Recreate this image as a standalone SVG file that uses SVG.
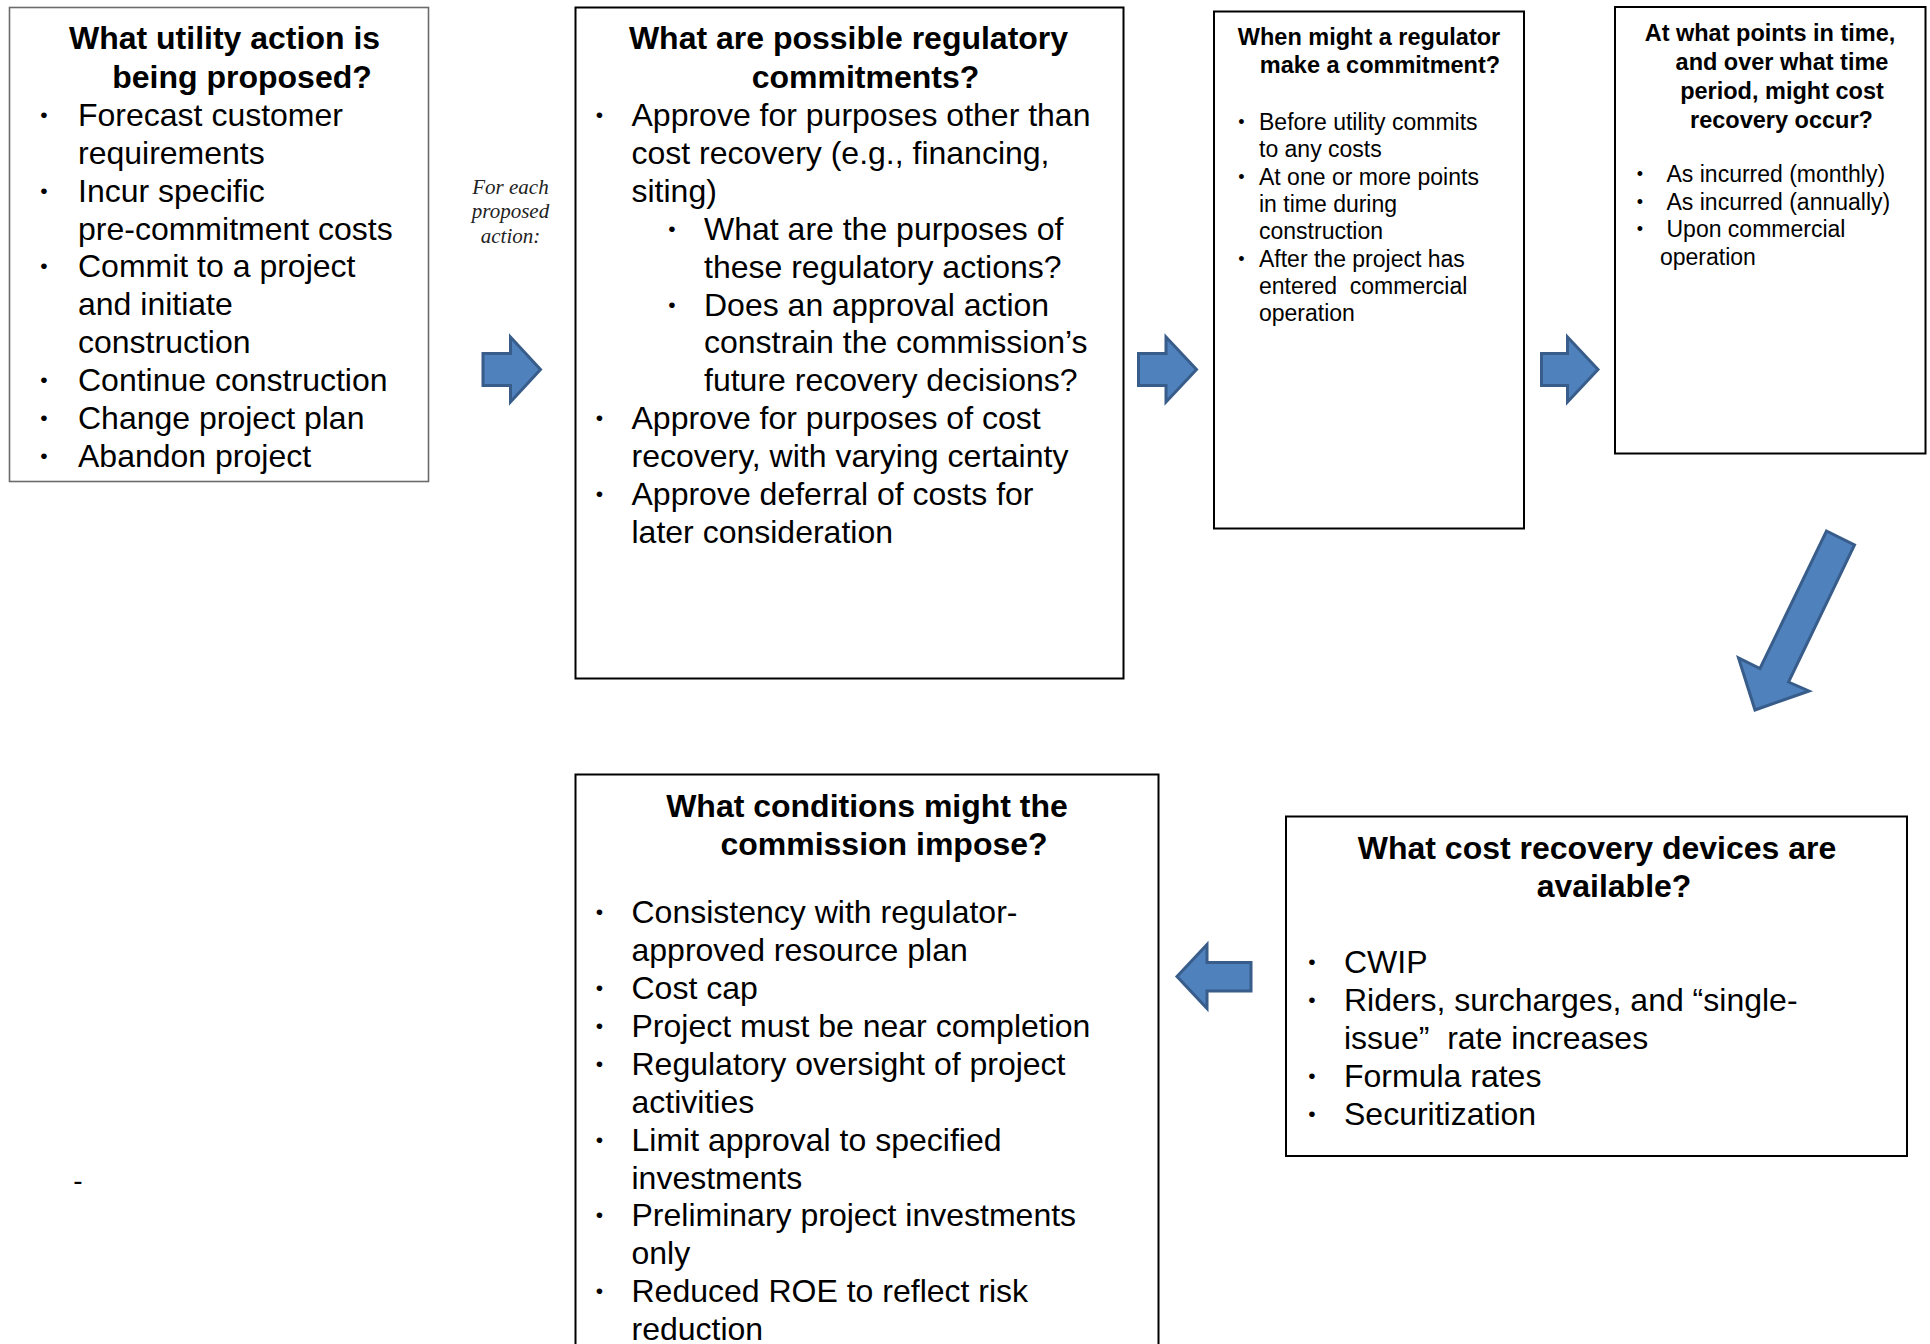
<svg xmlns="http://www.w3.org/2000/svg" width="1930" height="1344" viewBox="0 0 1930 1344">
<style>
.bg{fill:#ffffff}
.box{fill:#ffffff;stroke:#000000;stroke-width:2}
.box1{fill:#ffffff;stroke:#6b6b6b;stroke-width:1.6}
.t{font-family:"Liberation Sans",Arial,sans-serif;fill:#000000}
.h32{font-size:32px;font-weight:bold;text-anchor:middle}
.b32{font-size:32px}
.h23{font-size:23.5px;font-weight:bold;text-anchor:middle}
.b23{font-size:23px}
.bu32{font-size:21px}
.bu23{font-size:18px}
.note{font-family:"Liberation Serif","Times New Roman",serif;font-style:italic;font-size:21px;text-anchor:middle;fill:#222222}
.arrow{fill:#4F81BD;stroke:#385D8A;stroke-width:3;stroke-linejoin:miter}
</style>
<rect class="bg" x="0" y="0" width="1930" height="1344"/>

<g id="node-utility-action">
<rect class="box1" x="9.5" y="7.5" width="419" height="474"/>
<text class="t h32"><tspan x="224.5" y="49">What utility action is</tspan><tspan x="242" y="87.5">being proposed?</tspan></text>
<text class="t b32">
<tspan x="78" y="125.5">Forecast customer</tspan>
<tspan x="78" y="163.5">requirements</tspan>
<tspan x="78" y="201.5">Incur specific</tspan>
<tspan x="78" y="239.5">pre-commitment costs</tspan>
<tspan x="78" y="277">Commit to a project</tspan>
<tspan x="78" y="315">and initiate</tspan>
<tspan x="78" y="353">construction</tspan>
<tspan x="78" y="390.5">Continue construction</tspan>
<tspan x="78" y="428.5">Change project plan</tspan>
<tspan x="78" y="466.5">Abandon project</tspan>
</text>
<text class="t bu32"><tspan x="40.3" y="121.8">•</tspan><tspan x="40.3" y="197.8">•</tspan><tspan x="40.3" y="273.3">•</tspan><tspan x="40.3" y="386.8">•</tspan><tspan x="40.3" y="424.8">•</tspan><tspan x="40.3" y="462.8">•</tspan></text>
</g>

<g id="note-for-each">
<text class="note"><tspan x="510.5" y="193.5">For each</tspan><tspan x="510.5" y="218">proposed</tspan><tspan x="510.5" y="242.5">action:</tspan></text>
</g>

<g id="node-regulatory-commitments">
<rect class="box" x="575.5" y="7.5" width="548" height="671"/>
<text class="t h32"><tspan x="848.5" y="49">What are possible regulatory</tspan><tspan x="865.5" y="87.5">commitments?</tspan></text>
<text class="t b32">
<tspan x="631.5" y="125.5">Approve for purposes other than</tspan>
<tspan x="631.5" y="163.5">cost recovery (e.g., financing,</tspan>
<tspan x="631.5" y="201.5">siting)</tspan>
<tspan x="704" y="239.5">What are the purposes of</tspan>
<tspan x="704" y="277.5">these regulatory actions?</tspan>
<tspan x="704" y="315.5">Does an approval action</tspan>
<tspan x="704" y="353">constrain the commission’s</tspan>
<tspan x="704" y="390.5">future recovery decisions?</tspan>
<tspan x="631.5" y="428.5">Approve for purposes of cost</tspan>
<tspan x="631.5" y="466.5">recovery, with varying certainty</tspan>
<tspan x="631.5" y="504.5">Approve deferral of costs for</tspan>
<tspan x="631.5" y="542.5">later consideration</tspan>
</text>
<text class="t bu32"><tspan x="595.8" y="121.8">•</tspan><tspan x="668.3" y="235.8">•</tspan><tspan x="668.3" y="311.8">•</tspan><tspan x="595.8" y="424.8">•</tspan><tspan x="595.8" y="500.8">•</tspan></text>
</g>

<g id="node-when-commit">
<rect class="box" x="1214" y="11.5" width="310" height="517"/>
<text class="t h23"><tspan x="1369" y="44.5">When might a regulator</tspan><tspan x="1380" y="73">make a commitment?</tspan></text>
<text class="t b23" xml:space="preserve"><tspan x="1259" y="130">Before utility commits</tspan><tspan x="1259" y="157.3">to any costs</tspan><tspan x="1259" y="184.6">At one or more points</tspan><tspan x="1259" y="211.9">in time during</tspan><tspan x="1259" y="239.2">construction</tspan><tspan x="1259" y="266.5">After the project has</tspan><tspan x="1259" y="293.8">entered  commercial</tspan><tspan x="1259" y="321.1">operation</tspan></text>
<text class="t bu23"><tspan x="1238.3" y="128.3">•</tspan><tspan x="1238.3" y="182.9">•</tspan><tspan x="1238.3" y="264.8">•</tspan></text>
</g>

<g id="node-cost-recovery-timing">
<rect class="box" x="1615" y="7" width="310.5" height="446.5"/>
<text class="t h23"><tspan x="1770" y="40.5">At what points in time,</tspan><tspan x="1782" y="69.5">and over what time</tspan><tspan x="1782" y="98.5">period, might cost</tspan><tspan x="1781.5" y="127.5">recovery occur?</tspan></text>
<text class="t b23"><tspan x="1666.5" y="182">As incurred (monthly)</tspan><tspan x="1666.5" y="209.5">As incurred (annually)</tspan><tspan x="1666.5" y="237">Upon commercial</tspan><tspan x="1660" y="264.5">operation</tspan></text>
<text class="t bu23"><tspan x="1636.8" y="180.3">•</tspan><tspan x="1636.8" y="207.8">•</tspan><tspan x="1636.8" y="235.3">•</tspan></text>
</g>

<g id="node-recovery-devices">
<rect class="box" x="1286" y="816.5" width="621" height="339.5"/>
<text class="t h32"><tspan x="1597" y="858.5">What cost recovery devices are</tspan><tspan x="1614" y="896.5">available?</tspan></text>
<text class="t b32" xml:space="preserve"><tspan x="1344" y="973">CWIP</tspan><tspan x="1344" y="1011">Riders, surcharges, and “single-</tspan><tspan x="1344" y="1049">issue”  rate increases</tspan><tspan x="1344" y="1087">Formula rates</tspan><tspan x="1344" y="1125">Securitization</tspan></text>
<text class="t bu32"><tspan x="1308.3" y="969.3">•</tspan><tspan x="1308.3" y="1007.3">•</tspan><tspan x="1308.3" y="1083.3">•</tspan><tspan x="1308.3" y="1121.3">•</tspan></text>
</g>

<g id="node-conditions">
<rect class="box" x="575.5" y="774.5" width="583" height="600"/>
<text class="t h32"><tspan x="867" y="816.5">What conditions might the</tspan><tspan x="884" y="854.5">commission impose?</tspan></text>
<text class="t b32">
<tspan x="631.5" y="923">Consistency with regulator-</tspan>
<tspan x="631.5" y="961">approved resource plan</tspan>
<tspan x="631.5" y="999">Cost cap</tspan>
<tspan x="631.5" y="1036.5">Project must be near completion</tspan>
<tspan x="631.5" y="1074.5">Regulatory oversight of project</tspan>
<tspan x="631.5" y="1112.5">activities</tspan>
<tspan x="631.5" y="1150.5">Limit approval to specified</tspan>
<tspan x="631.5" y="1188.5">investments</tspan>
<tspan x="631.5" y="1226">Preliminary project investments</tspan>
<tspan x="631.5" y="1264">only</tspan>
<tspan x="631.5" y="1302">Reduced ROE to reflect risk</tspan>
<tspan x="631.5" y="1340">reduction</tspan>
</text>
<text class="t bu32"><tspan x="595.8" y="919.3">•</tspan><tspan x="595.8" y="995.3">•</tspan><tspan x="595.8" y="1032.8">•</tspan><tspan x="595.8" y="1070.8">•</tspan><tspan x="595.8" y="1146.8">•</tspan><tspan x="595.8" y="1222.3">•</tspan><tspan x="595.8" y="1298.3">•</tspan></text>
</g>

<g id="stray-dash">
<text class="t" x="78" y="1189.5" font-size="28" text-anchor="middle">-</text>
</g>

<g id="connectors">
<path class="arrow" d="M483,353.5 H510.5 V337 L540.5,369.5 L510.5,402 V385.5 H483 Z"/>
<path class="arrow" d="M1138.5,353.5 H1166 V337 L1196.5,369.5 L1166,402 V385.5 H1138.5 Z"/>
<path class="arrow" d="M1541.5,353.5 H1567.5 V337 L1598,369.5 L1567.5,402 V385.5 H1541.5 Z"/>
<path class="arrow" d="M1826.5,531 L1854.5,545 L1788.5,682 L1809,691 L1755,710 L1738.5,658 L1760,668.5 Z"/>
<path class="arrow" d="M1251,962.5 H1207 V944.5 L1177,976.5 L1207,1008.5 V991 H1251 Z"/>
</g>
</svg>
